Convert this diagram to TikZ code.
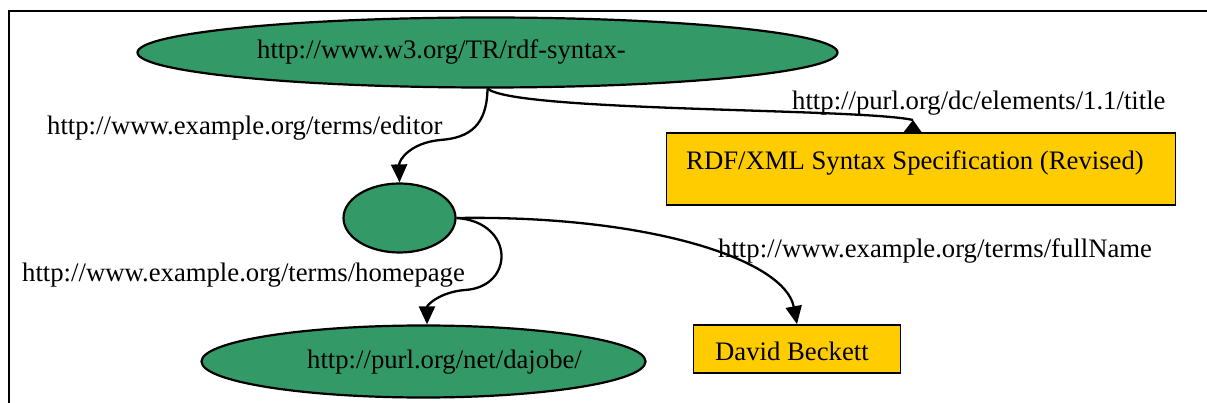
\documentclass[tikz,border=0pt]{standalone}
\usepackage{fontspec}
\setmainfont{Liberation Serif}
\usetikzlibrary{shapes.geometric,arrows.meta,calc}
\definecolor{nodegreen}{RGB}{51,153,102}
\definecolor{lityellow}{RGB}{255,204,0}
\begin{document}
\begin{tikzpicture}[x=1pt,y=-1pt,
  res/.style={ellipse,draw=black,line width=2.2pt,fill=nodegreen,inner sep=0pt},
  lit/.style={rectangle,draw=black,line width=1.7pt,fill=lityellow,inner sep=0pt},
  txt/.style={anchor=base west,inner sep=0pt,font=\fontsize{26.7}{30}\selectfont},
  edge/.style={draw=black,line width=2.3pt,-{Triangle[length=18pt,width=16pt]}},
  plain/.style={draw=black,line width=2.3pt}]
\useasboundingbox (0,0) rectangle (1207,403);
% frame
\draw[line width=2.2pt] (9,410) -- (9,11) -- (1210,11);
% shapes
\node[res,minimum width=700pt,minimum height=70pt] (subj) at (487.5,52.5) {};
\node[res,minimum width=112pt,minimum height=69pt] (blank) at (399.5,218) {};
\node[res,minimum width=444pt,minimum height=72pt] (home) at (423.5,361.5) {};
\node[lit,minimum width=509pt,minimum height=72pt] (title) at (921,169) {};
\node[lit,minimum width=207pt,minimum height=48pt] (name) at (797,349) {};
% texts
\node[txt] (subjtext) at (257,59) {http://www.w3.org/TR/rdf-syntax-};
\node[txt] (hometext) at (307,368) {http://purl.org/net/dajobe/};
\node[txt] (titletext) at (686,170) {RDF/XML Syntax Specification (Revised)};
\node[txt] (nametext) at (715,360) {David Beckett};
% edge labels
\node[txt] (leditor) at (47,135) {http://www.example.org/terms/editor};
\node[txt] (ltitle) at (792,110) {http://purl.org/dc/elements/1.1/title};
\node[txt] (lhome) at (22,282) {http://www.example.org/terms/homepage};
\node[txt] (lname) at (718,258) {http://www.example.org/terms/fullName};
% edges
\draw[edge] (subj.south) .. controls (487,125) and (470,138) .. (440,140)
  .. controls (410,143) and (399,160) .. (blank.north);
\coordinate (tapex) at (913,120);
\draw[plain] (subj.south) .. controls (515,112) and (860,108) .. (tapex);
\fill[black] (tapex) -- ($(title.north west)+(238,0)$) -- ($(title.north west)+(256,0)$) -- cycle;
\draw[edge] (blank.east) .. controls (515,222) and (515,287) .. (465,290)
  .. controls (440,292) and (427,305) .. ($(home.north)+(3.5,0)$);
\draw[edge] (blank.east) .. controls (650,215) and (785,260) .. (name.north);
\end{tikzpicture}
\end{document}
